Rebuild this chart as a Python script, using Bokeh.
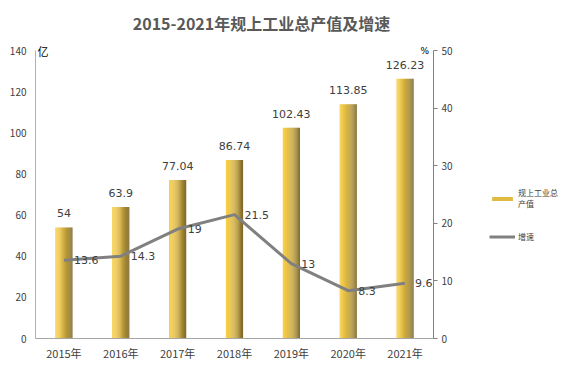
from bokeh.plotting import figure
from bokeh.models import (Range1d, LinearAxis, Legend, LegendItem,
                          Label, ColumnDataSource, FixedTicker)
from bokeh.core.properties import value
from bokeh.embed import file_html
from bokeh.resources import INLINE

years = ["2015年", "2016年", "2017年", "2018年", "2019年", "2020年", "2021年"]
output_value = [54, 63.9, 77.04, 86.74, 102.43, 113.85, 126.23]
growth = [13.6, 14.3, 19, 21.5, 13, 8.3, 9.6]
output_labels = ["54", "63.9", "77.04", "86.74", "102.43", "113.85", "126.23"]
growth_labels = ["13.6", "14.3", "19", "21.5", "13", "8.3", "9.6"]
left_ticks = [0, 20, 40, 60, 80, 100, 120, 140]
right_ticks = [0, 10, 20, 30, 40, 50]
left_max, right_max = 140, 50

idx = list(range(len(years)))
src = ColumnDataSource(dict(i=idx, year=years, val=output_value, g=growth,
                            vl=output_labels, gl=growth_labels))

# canvas / plotting-area geometry (pixels)
W, H = 559, 363
PL, PR, PT, PB = 35, 433, 50, 338       # plot area edges inside the canvas
n = len(years)
xu = (PR - PL) / n                       # px per category
x0 = -0.5 - PL / xu
x1 = n - 0.5 + (W - PR) / xu
yl = (PB - PT) / left_max
yr = (PB - PT) / right_max

p = figure(width=W, height=H, x_range=Range1d(x0, x1),
           y_range=Range1d(-(H - PB) / yl, left_max + PT / yl),
           output_backend="svg", toolbar_location=None,
           min_border=0, min_border_left=0, min_border_right=0,
           min_border_top=0, min_border_bottom=0)
p.extra_y_ranges = {"pct": Range1d(-(H - PB) / yr, right_max + PT / yr)}
p.outline_line_color = None
p.xgrid.grid_line_color = None
p.ygrid.grid_line_color = None

tick_font = "Noto Sans CJK SC"
# left axis
ya = p.yaxis[0]
ya.fixed_location = -0.5
ya.bounds = (0, left_max)
ya.ticker = FixedTicker(ticks=left_ticks)
ya.major_tick_line_color = None
ya.major_tick_out = 0
ya.major_tick_in = 0
ya.minor_tick_line_color = None
ya.axis_line_color = "#9db4d9"
ya.major_label_text_font = tick_font
ya.major_label_text_font_size = "10px"
ya.major_label_text_color = "#404040"
ya.major_label_standoff = 9

# bottom axis
xa = p.xaxis[0]
xa.fixed_location = 0
xa.bounds = (-0.5, n - 0.5)
xa.ticker = FixedTicker(ticks=idx)
xa.major_label_overrides = {i: y for i, y in zip(idx, years)}
xa.axis_line_color = "#a6a6a6"
xa.major_tick_line_color = None
xa.major_tick_out = 0
xa.major_tick_in = 0
xa.minor_tick_line_color = None
xa.major_label_text_font = tick_font
xa.major_label_text_font_size = "11px"
xa.major_label_text_color = "#404040"
xa.major_label_standoff = 6

# right axis
ra = LinearAxis(y_range_name="pct", ticker=FixedTicker(ticks=right_ticks),
                bounds=(0, right_max), fixed_location=n - 0.5)
ra.axis_line_color = "#808080"
ra.major_tick_line_color = "#808080"
ra.major_tick_out = 4
ra.major_tick_in = 0
ra.minor_tick_line_color = None
ra.major_label_text_font = tick_font
ra.major_label_text_font_size = "10px"
ra.major_label_text_color = "#404040"
ra.major_label_standoff = 4
p.add_layout(ra, "right")

# gradient bars built from slices
ns = 16
bw = 0.3
sw = bw / ns
c0 = (247, 206, 74)
c1 = (128, 106, 42)
bar_renderers = []
for k in range(ns):
    t = (k / (ns - 1)) ** 1.5
    col = "#%02x%02x%02x" % tuple(int(c0[j] + (c1[j] - c0[j]) * t) for j in range(3))
    off = -bw / 2 + sw * (k + 0.5)
    xs = [i + off for i in idx]
    r = p.vbar(x=xs, top=output_value, width=sw * 1.15,
               fill_color=col, line_color=None)
    bar_renderers.append(r)

line_r = p.line(x="i", y="g", source=src, y_range_name="pct",
                line_color="#808080", line_width=3)

lab_font = "DejaVu Sans"
p.text(x="i", y="val", text="vl", source=src, text_align="center",
       text_baseline="bottom", y_offset=-10, text_font=value(lab_font),
       text_font_size="11px", text_color="#404040")
p.text(x="i", y="g", text="gl", source=src, y_range_name="pct",
       text_align="left", text_baseline="middle", x_offset=10,
       text_font=value(lab_font), text_font_size="11px", text_color="#404040")

# title
p.add_layout(Label(x=261, y=H - 22, x_units="screen", y_units="screen",
                   text="2015-2021年规上工业总产值及增速",
                   text_font="Noto Sans CJK SC", text_font_size="16px",
                   text_font_style="bold", text_color="#595959",
                   text_align="center", text_baseline="middle"))

# unit labels
p.add_layout(Label(x=PL + 2, y=left_max, x_units="screen", text="亿",
                   text_font="Noto Sans CJK SC", text_font_size="11px",
                   text_color="#000000", text_baseline="middle"))
p.add_layout(Label(x=PR - 13, y=left_max, x_units="screen", text="%",
                   text_font="DejaVu Sans", text_font_size="9px",
                   text_color="#000000", text_baseline="middle"))

legend = Legend(items=[LegendItem(label="规上工业总\n产值", renderers=[bar_renderers[5]]),
                       LegendItem(label="增速", renderers=[line_r])],
                location=(489, 121), border_line_color=None, background_fill_alpha=0,
                label_text_font="Noto Sans CJK SC", label_text_font_size="8px",
                label_text_color="#404040", glyph_width=26, glyph_height=5,
                spacing=22, padding=0, margin=0, label_standoff=3)
p.add_layout(legend, "center")

open("out.html", "w").write(file_html(p, INLINE))
